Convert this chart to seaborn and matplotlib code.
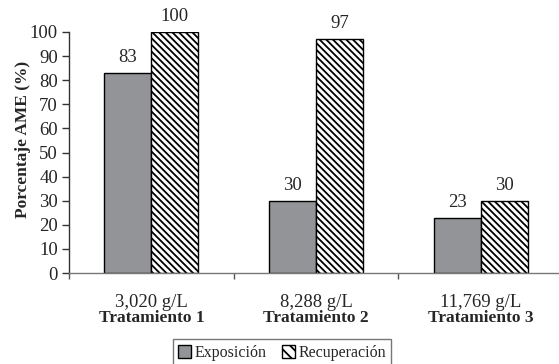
import matplotlib
matplotlib.use("Agg")
import matplotlib.pyplot as plt
import seaborn as sns
import pandas as pd
from matplotlib.patches import Patch

# Data
tratamientos = ["Tratamiento 1", "Tratamiento 2", "Tratamiento 3"]
concentraciones = ["3,020 g/L", "8,288 g/L", "11,769 g/L"]
exposicion = [83, 30, 23]
recuperacion = [100, 97, 30]
fases = ["Exposición", "Recuperación"]
y_ticks = [0, 10, 20, 30, 40, 50, 60, 70, 80, 90, 100]

df = pd.DataFrame({
    "tratamiento": tratamientos * 2,
    "fase": [fases[0]] * 3 + [fases[1]] * 3,
    "valor": exposicion + recuperacion,
})

sns.set_theme(style="white")
plt.rcParams["font.family"] = ["Liberation Serif", "DejaVu Serif"]
plt.rcParams["hatch.linewidth"] = 1.3
plt.rcParams["hatch.color"] = "#333333"

fig = plt.figure(figsize=(5.59, 3.64), dpi=100)
ax = fig.add_axes([69 / 559, 1 - 273 / 364, (563 - 69) / 559, (273 - 32) / 364])

gray = "#929497"
sns.barplot(data=df, x="tratamiento", y="valor", hue="fase",
            palette=[gray, "white"], width=0.572, edgecolor="black",
            linewidth=1.0, ax=ax, legend=False, saturation=1)

hatch = "\\\\\\\\\\"
for patch in ax.containers[1]:
    patch.set_hatch(hatch)

for cont in ax.containers:
    ax.bar_label(cont, fmt="%d", padding=5, fontsize=13.5)

ax.set_ylim(0, 100)
ax.set_xlim(-0.5, 2.5)
ax.set_yticks(y_ticks)
ax.tick_params(axis="y", labelsize=13.5, length=5, width=1, direction="out",
               left=True, pad=3, color="#333333")
ax.set_xticks([-0.5, 0.5, 1.5, 2.5])
ax.set_xticklabels([])
ax.tick_params(axis="x", length=4, width=1, direction="out", bottom=True, color="#555555")
ax.set_xlabel("")
ax.set_ylabel("Porcentaje AME (%)", fontsize=12.5, fontweight="bold")
ax.yaxis.set_label_coords(-0.076, 0.555)

for s in ["top", "right"]:
    ax.spines[s].set_visible(False)
ax.spines["left"].set_color("#333333")
ax.spines["bottom"].set_color("#777777")
ax.spines["left"].set_linewidth(1)
ax.spines["bottom"].set_linewidth(1)

# Category labels: concentration on top, treatment name in bold beneath
for i, (c, t) in enumerate(zip(concentraciones, tratamientos)):
    ax.text(i, -12.3, c, ha="center", va="center", fontsize=13.5,
            transform=ax.transData, clip_on=False)
    ax.text(i, -18.8, t, ha="center", va="center", fontsize=12.5,
            fontweight="bold", transform=ax.transData, clip_on=False)

handles = [Patch(facecolor=gray, edgecolor="black", linewidth=1.0),
           Patch(facecolor="white", edgecolor="black", linewidth=1.0, hatch="\\\\\\")]
leg = fig.legend(handles, fases, loc="center", bbox_to_anchor=(282 / 559, 1 - 353 / 364),
                 ncol=2, frameon=True, fontsize=11.5, handlelength=0.8,
                 handleheight=0.8, handletextpad=0.2, columnspacing=1.0,
                 borderpad=0.35, fancybox=False)
leg.get_frame().set_edgecolor("#555555")
leg.get_frame().set_linewidth(1.0)

fig.savefig("out.png", dpi=100)
